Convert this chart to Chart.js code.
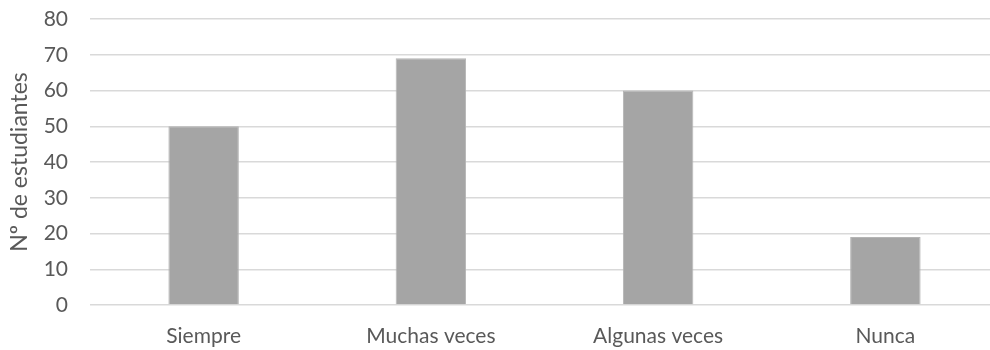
<!DOCTYPE html>
<html>
<head>
<meta charset="utf-8">
<script src="https://cdn.jsdelivr.net/npm/chart.js@4"></script>
<style>
    html, body { margin: 0; padding: 0; background: #fff; overflow: hidden; }
    #wrap { width: 999px; height: 350px; position: relative; }
</style>
</head>
<body>
<div id="wrap"><canvas id="barChart"></canvas></div>
<script>
const categories = ["Siempre", "Muchas veces", "Algunas veces", "Nunca"];
const students = [50, 69, 60, 19];
const yTicks = [0, 10, 20, 30, 40, 50, 60, 70, 80];

const textColor = "#595959";
const fontFamily = "Lato, 'Open Sans', sans-serif";

new Chart(document.getElementById("barChart"), {
    type: "bar",
    data: {
        labels: categories,
        datasets: [{
            label: "Nº de estudiantes",
            data: students,
            backgroundColor: "#a5a5a5",
            borderColor: "#b4b4b4",
            borderWidth: 1,
            barPercentage: 0.31,
            categoryPercentage: 1
        }]
    },
    options: {
        responsive: true,
        maintainAspectRatio: false,
        animation: false,
        layout: { padding: 0 },
        scales: {
            x: {
                grid: { display: false },
                border: { display: false },
                ticks: { color: textColor, font: { family: fontFamily, size: 21 }, padding: 11 },
                // fixed height so the plot bottom sits where the reference has it
                afterFit: scale => { scale.height = 45; scale.paddingLeft = 0; scale.paddingRight = 0; }
            },
            y: {
                min: 0,
                max: 80,
                afterBuildTicks: axis => { axis.ticks = yTicks.map(v => ({ value: v })); },
                grid: { color: "#d9d9d9", lineWidth: 1.5, drawTicks: false },
                border: { display: false },
                ticks: { color: textColor, font: { family: fontFamily, size: 21 }, padding: 22 },
                title: {
                    display: true,
                    text: "Nº de estudiantes",
                    color: textColor,
                    font: { family: fontFamily, size: 23 },
                    padding: { top: 6, bottom: 0 }
                },
                afterFit: scale => { scale.width = 90; scale.paddingTop = 19; scale.paddingBottom = 0; }
            }
        },
        plugins: {
            legend: { display: false },
            tooltip: { enabled: false }
        }
    }
});
</script>
</body>
</html>
